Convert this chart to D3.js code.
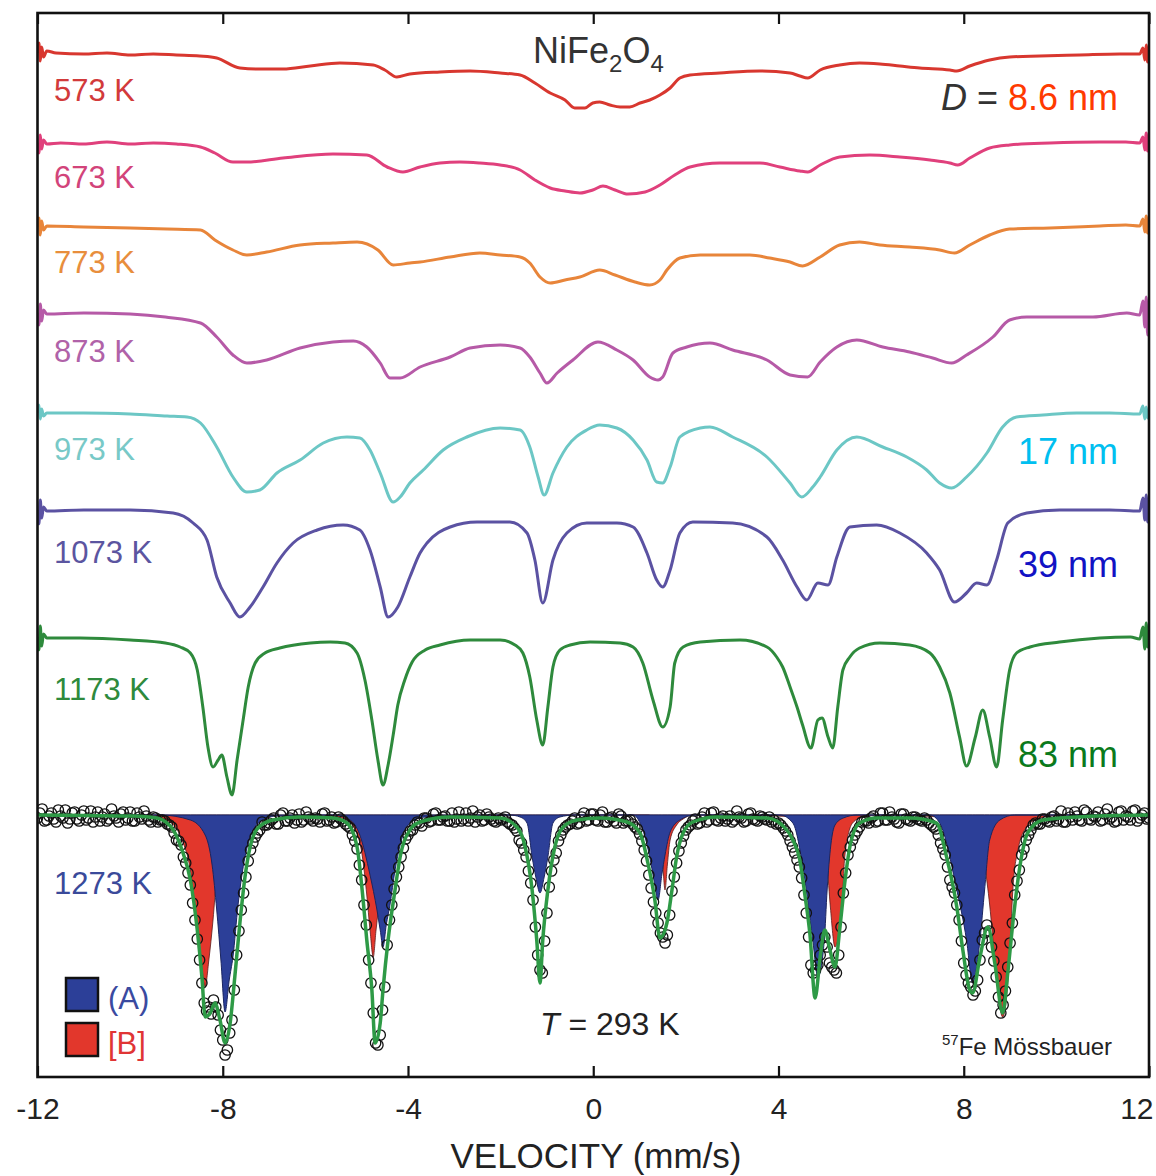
<!DOCTYPE html>
<html>
<head>
<meta charset="utf-8">
<script src="https://cdn.jsdelivr.net/npm/d3@7"></script>
<style>
  body { margin: 0; background: #fff; }
  text { font-family: "Liberation Sans", Arial, sans-serif; }
</style>
</head>
<body>
<svg id="chart" width="1156" height="1176"></svg>
<script>
// ---- Mössbauer spectra of NiFe2O4, annealed at increasing temperature ----
// Each spectrum: [velocity (mm/s), relative absorption (%)]

const temperatures = ["573 K", "673 K", "773 K", "873 K", "973 K", "1073 K", "1173 K", "1273 K"];
const curveColors  = ["#d8372f", "#e0407c", "#e8853a", "#b65aa7", "#6cc7c5", "#5b52a2", "#2e8a3c"];
const labelColors  = ["#d23a3a", "#d2447a", "#e88e3c", "#b062a8", "#78c9c7", "#5b55a0", "#2e8a3c", "#3a4a9a"];
// vertical stacking offset of each spectrum baseline (% units from the top of the frame)
const stackOffset  = [4.0, 13.0, 21.4, 30.0, 40.0, 49.7, 62.4, 80.2];

const spec573 = [[-12.00,0.0],[-11.97,-1.0],[-11.94,0.8],[-11.91,-0.6],[-11.87,0.4],[-11.8,-0.2],[-11.6,0.0],[-11.0,0.1],[-10.5,0.0],[-10.0,0.2],[-9.5,0.1],[-9.0,0.2],[-8.5,0.3],[-8.13,0.5],[-7.63,1.5],[-7.20,1.6],[-6.70,1.6],[-6.11,1.3],[-5.47,1.0],[-4.75,1.2],[-4.50,1.7],[-4.24,2.4],[-3.96,2.1],[-3.31,1.9],[-2.66,1.8],[-2.01,2.0],[-1.58,2.2],[-1.26,3.0],[-0.93,4.0],[-0.61,4.7],[-0.40,5.5],[-0.18,5.5],[-0.01,5.0],[0.14,4.9],[0.36,5.2],[0.58,5.4],[0.79,5.4],[1.01,5.0],[1.22,4.7],[1.44,4.2],[1.66,3.5],[1.87,2.5],[2.09,2.2],[2.73,2.0],[3.60,1.8],[4.25,2.0],[4.46,2.3],[4.63,2.5],[4.90,1.7],[5.32,1.2],[5.75,1.0],[6.19,1.1],[6.62,1.3],[7.05,1.5],[7.70,1.7],[7.85,1.8],[8.13,1.3],[8.56,0.7],[8.99,0.4],[9.64,0.3],[10.5,0.2],[11.37,0.1],[11.8,0.1],[11.87,-0.5],[11.91,0.7],[11.94,-0.8],[11.97,0.9],[12.0,0.1]];

const spec673 = [[-12.00,0.0],[-11.97,1.0],[-11.94,-0.8],[-11.91,0.6],[-11.87,-0.3],[-11.8,0.1],[-11.5,0.0],[-11.0,0.1],[-10.5,-0.1],[-10.0,0.1],[-9.5,0.0],[-9.0,0.1],[-8.48,0.4],[-8.17,1.0],[-7.78,1.9],[-7.48,1.9],[-6.70,1.5],[-5.62,1.1],[-4.89,1.2],[-4.45,2.4],[-4.11,2.9],[-3.74,2.4],[-3.31,2.0],[-2.88,1.9],[-2.45,2.0],[-2.01,2.2],[-1.58,2.7],[-1.26,3.7],[-0.93,4.5],[-0.61,4.8],[-0.29,5.0],[-0.01,4.7],[0.21,4.3],[0.47,4.7],[0.75,5.1],[1.12,4.9],[1.44,4.2],[1.76,3.2],[2.09,2.4],[2.73,2.0],[3.60,2.0],[4.03,2.4],[4.46,2.8],[4.63,2.9],[4.90,2.2],[5.32,1.4],[5.97,1.2],[6.62,1.4],[7.27,1.7],[7.70,2.0],[7.87,2.2],[8.13,1.5],[8.56,0.5],[8.99,0.2],[9.86,0.0],[10.94,-0.1],[11.5,-0.1],[11.8,0.0],[11.87,-0.6],[11.91,0.7],[11.94,-1.0],[11.97,0.8],[12.0,0.0]];

const spec773 = [[-12.00,0.0],[-11.97,-0.9],[-11.94,0.8],[-11.91,-0.6],[-11.87,0.3],[-11.8,-0.1],[-11.0,0.0],[-10.0,0.1],[-9.2,0.2],[-8.48,0.3],[-8.17,1.3],[-7.78,2.3],[-7.48,2.8],[-7.05,2.5],[-6.33,1.8],[-5.62,1.6],[-5.10,1.5],[-4.65,2.3],[-4.32,3.8],[-3.96,3.6],[-3.74,3.5],[-3.09,3.0],[-2.45,2.6],[-2.01,2.8],[-1.58,3.0],[-1.37,3.6],[-1.15,5.0],[-0.93,5.6],[-0.61,5.3],[-0.29,5.0],[0.14,4.3],[0.47,4.8],[0.90,5.5],[1.22,5.8],[1.44,5.3],[1.59,4.3],[1.87,3.1],[2.31,2.8],[3.38,2.8],[3.81,3.1],[4.25,3.5],[4.52,3.9],[4.90,3.0],[5.32,1.8],[5.75,1.5],[6.19,1.8],[6.83,2.0],[7.48,2.3],[7.80,2.6],[8.13,1.8],[8.56,0.8],[8.99,0.2],[9.86,0.1],[10.94,-0.1],[11.5,-0.2],[11.8,-0.1],[11.87,-0.8],[11.91,0.5],[11.94,-1.1],[11.97,0.6],[12.0,-0.2]];

const spec873 = [[-12.00,0.0],[-11.97,1.2],[-11.94,-0.9],[-11.91,0.8],[-11.87,-0.3],[-11.8,0.1],[-11.0,0.0],[-10.0,0.1],[-9.24,0.4],[-8.48,1.0],[-8.13,2.4],[-7.78,4.2],[-7.48,5.0],[-7.05,4.7],[-6.33,3.5],[-5.62,2.9],[-5.18,2.8],[-4.89,3.4],[-4.60,5.0],[-4.39,6.5],[-4.17,6.5],[-3.74,5.4],[-3.09,4.4],[-2.66,3.5],[-2.01,3.2],[-1.58,3.5],[-1.37,4.4],[-1.15,6.0],[-1.00,7.0],[-0.78,6.0],[-0.44,4.7],[0.10,2.9],[0.51,3.7],[0.86,4.7],[1.22,6.4],[1.40,6.7],[1.50,6.4],[1.72,4.0],[2.02,3.4],[2.52,3.0],[3.01,3.7],[3.75,4.7],[4.25,6.2],[4.63,6.4],[4.90,4.9],[5.26,3.4],[5.69,2.7],[6.25,3.4],[6.83,3.9],[7.33,4.5],[7.74,5.0],[8.06,4.2],[8.63,2.4],[8.99,0.7],[9.36,0.4],[10.07,0.4],[10.79,0.4],[11.52,0.0],[11.8,0.2],[11.87,-1.2],[11.91,1.4],[11.94,-1.6],[11.97,2.2],[12.0,0.4]];

const spec973 = [[-12.00,0.0],[-11.97,-0.8],[-11.94,0.6],[-11.91,-0.4],[-11.87,0.3],[-11.8,0.0],[-11.0,0.0],[-10.0,0.1],[-9.2,0.3],[-8.77,0.4],[-8.48,1.0],[-8.13,3.4],[-7.78,6.4],[-7.48,7.9],[-7.20,7.7],[-6.83,6.0],[-6.33,4.7],[-5.83,3.0],[-5.32,2.4],[-5.04,2.5],[-4.82,3.7],[-4.60,6.0],[-4.32,8.9],[-4.17,8.4],[-3.96,7.0],[-3.67,5.7],[-3.24,3.7],[-2.73,2.4],[-2.01,1.5],[-1.58,1.7],[-1.37,3.4],[-1.19,6.4],[-1.06,8.2],[-0.87,6.0],[-0.57,3.4],[-0.14,1.7],[0.14,1.2],[0.51,1.5],[0.86,2.7],[1.16,4.7],[1.37,6.9],[1.50,7.0],[1.66,5.4],[1.87,2.4],[2.31,1.5],[2.52,1.4],[3.01,2.4],[3.75,4.4],[4.25,7.0],[4.50,8.4],[4.74,7.4],[4.90,6.4],[5.26,3.7],[5.69,2.4],[6.25,3.4],[6.77,4.4],[7.20,5.7],[7.48,7.0],[7.74,7.5],[8.06,6.4],[8.50,4.0],[8.84,1.4],[9.14,0.4],[9.71,0.2],[10.44,0.0],[11.15,0.0],[11.8,0.1],[11.87,-0.7],[11.91,0.6],[11.94,-0.6],[11.97,0.5],[12.0,0.1]];

const spec1073 = [[-12.00,0.0],[-11.97,1.4],[-11.94,-1.0],[-11.91,0.8],[-11.87,-0.3],[-11.8,0.1],[-11.0,0.0],[-10.0,0.0],[-9.07,0.3],[-8.64,1.3],[-8.34,3.0],[-8.13,6.7],[-7.84,9.3],[-7.63,10.7],[-7.41,9.7],[-7.13,7.7],[-6.83,5.3],[-6.48,3.3],[-5.96,2.0],[-5.40,1.5],[-5.04,2.0],[-4.82,4.0],[-4.60,7.7],[-4.43,10.7],[-4.22,9.7],[-3.96,6.7],[-3.74,4.3],[-3.59,3.3],[-3.09,1.7],[-2.51,1.2],[-1.80,1.2],[-1.43,2.3],[-1.26,5.0],[-1.09,9.3],[-0.87,5.0],[-0.57,2.3],[-0.14,1.3],[0.51,1.3],[0.86,1.7],[1.16,4.3],[1.37,7.0],[1.50,7.7],[1.66,6.0],[1.87,2.3],[2.15,1.2],[3.01,1.3],[3.75,2.7],[4.09,5.0],[4.40,7.7],[4.61,9.0],[4.85,7.3],[5.07,7.5],[5.26,4.7],[5.54,1.7],[6.12,1.5],[6.62,2.3],[7.20,4.3],[7.48,6.0],[7.80,9.2],[8.06,8.3],[8.28,7.3],[8.50,7.5],[8.71,5.0],[8.95,1.3],[9.36,0.3],[10.07,0.0],[11.15,0.0],[11.8,0.1],[11.87,-1.2],[11.91,1.0],[11.94,-1.5],[11.97,1.2],[12.0,0.2]];

const spec1173 = [[-12.00,0.0],[-11.97,1.3],[-11.94,-1.1],[-11.91,0.9],[-11.87,-0.3],[-11.8,0.1],[-11.5,0.1],[-11.08,0.1],[-10.0,0.3],[-9.24,0.6],[-8.92,1.0],[-8.70,1.6],[-8.55,3.3],[-8.43,7.0],[-8.32,11.0],[-8.21,13.0],[-8.10,12.3],[-8.02,11.8],[-7.91,14.0],[-7.80,15.8],[-7.69,12.3],[-7.56,8.3],[-7.45,5.0],[-7.30,2.6],[-7.09,1.6],[-6.77,1.1],[-6.11,0.6],[-5.68,0.5],[-5.36,0.6],[-5.10,1.6],[-4.93,4.3],[-4.78,8.3],[-4.65,12.3],[-4.54,14.8],[-4.43,12.8],[-4.32,9.8],[-4.22,6.8],[-4.07,4.3],[-3.91,2.5],[-3.63,1.3],[-3.31,0.8],[-2.66,0.3],[-2.01,0.3],[-1.69,0.8],[-1.52,1.6],[-1.37,4.0],[-1.22,8.3],[-1.09,10.8],[-0.98,7.0],[-0.87,3.0],[-0.72,1.3],[-0.50,0.8],[-0.07,0.5],[0.58,0.6],[0.86,1.0],[1.07,2.6],[1.29,6.3],[1.50,9.0],[1.66,7.0],[1.76,2.6],[1.94,1.0],[2.31,0.5],[3.17,0.3],[3.75,1.0],[3.96,2.0],[4.09,3.0],[4.25,5.0],[4.40,7.0],[4.52,8.8],[4.70,11.1],[4.85,8.3],[4.94,8.1],[5.07,10.0],[5.17,11.1],[5.28,7.0],[5.39,3.3],[5.54,2.0],[5.75,1.1],[6.19,0.6],[6.83,0.8],[7.27,1.6],[7.48,3.0],[7.70,5.6],[7.91,10.0],[8.06,12.9],[8.25,10.0],[8.41,7.3],[8.56,10.0],[8.71,13.0],[8.84,8.3],[8.99,3.3],[9.14,1.6],[9.43,1.0],[10.07,0.5],[10.94,0.1],[11.6,0.0],[11.8,0.2],[11.87,-1.0],[11.91,1.2],[11.94,-1.4],[11.97,1.0],[12.0,0.3]];

const tempSpectra = [spec573, spec673, spec773, spec873, spec973, spec1073, spec1173];

// 1273 K measured at 293 K: fitted envelope, A-site and B-site sextets
const fit1273 = [[-12.0,0.0],[-11.0,0.05],[-9.94,0.1],[-9.42,0.3],[-9.07,1.5],[-8.88,3.5],[-8.70,6.5],[-8.55,11.5],[-8.45,16.2],[-8.38,20.2],[-8.27,19.8],[-8.17,18.8],[-8.06,20.5],[-7.95,22.8],[-7.84,20.8],[-7.74,16.2],[-7.63,10.8],[-7.52,6.2],[-7.41,3.2],[-7.24,1.3],[-6.92,0.5],[-6.33,0.2],[-5.62,0.3],[-5.32,0.8],[-5.10,3.2],[-4.99,7.5],[-4.89,12.5],[-4.78,17.5],[-4.71,22.8],[-4.60,20.8],[-4.54,17.5],[-4.43,12.5],[-4.28,7.5],[-4.17,4.2],[-3.96,1.5],[-3.74,0.7],[-3.09,0.2],[-2.01,0.3],[-1.65,1.2],[-1.47,3.2],[-1.32,7.5],[-1.22,12.5],[-1.15,16.8],[-1.09,12.5],[-0.98,7.5],[-0.83,3.2],[-0.65,1.2],[-0.35,0.5],[0.14,0.3],[0.73,0.7],[1.01,1.8],[1.18,4.8],[1.33,8.5],[1.44,12.3],[1.59,10.8],[1.70,7.5],[1.80,4.2],[1.94,1.8],[2.15,0.7],[2.67,0.2],[3.75,0.3],[4.18,1.5],[4.31,2.5],[4.46,4.5],[4.57,8.0],[4.68,12.0],[4.79,18.3],[4.90,14.2],[5.00,11.5],[5.11,13.5],[5.22,15.2],[5.32,11.5],[5.43,6.8],[5.54,3.2],[5.75,0.8],[6.12,0.3],[6.83,0.3],[7.41,0.8],[7.63,4.2],[7.85,9.2],[7.98,13.5],[8.13,17.5],[8.19,17.8],[8.35,14.2],[8.52,11.2],[8.67,14.8],[8.84,19.8],[8.95,15.8],[9.06,10.8],[9.21,5.2],[9.38,1.8],[9.71,0.5],[10.44,0.2],[12.0,0.0]];

const siteA1273 = [[-12.0,0],[-9.36,0],[-8.70,0.5],[-8.38,2.0],[-8.23,5.0],[-8.13,9.5],[-8.04,14.5],[-7.95,19.7],[-7.86,16.5],[-7.78,14.2],[-7.67,9.0],[-7.52,4.2],[-7.37,1.8],[-7.20,0.7],[-6.87,0.1],[-5.58,0],[-5.25,0.5],[-5.04,2.0],[-4.82,6.0],[-4.67,9.5],[-4.60,11.5],[-4.54,13.2],[-4.47,11.0],[-4.39,9.0],[-4.28,5.5],[-4.17,3.0],[-4.00,1.0],[-3.63,0.2],[-1.80,0],[-1.58,0.2],[-1.43,0.8],[-1.32,4.2],[-1.24,6.2],[-1.15,7.8],[-1.06,6.2],[-0.98,4.2],[-0.87,0.8],[-0.72,0.2],[-0.40,0],[0.86,0],[1.01,0.8],[1.22,4.2],[1.31,6.5],[1.40,8.5],[1.48,6.0],[1.55,4.0],[1.66,1.7],[1.87,0.5],[2.20,0],[4.03,0],[4.31,0.8],[4.52,5.0],[4.74,12.5],[4.85,16.2],[4.99,12.5],[5.05,7.5],[5.13,3.0],[5.22,1.0],[5.40,0.3],[5.70,0],[7.27,0],[7.48,0.8],[7.85,7.5],[8.06,12.5],[8.19,16.8],[8.35,12.5],[8.45,7.5],[8.56,2.5],[8.78,0.5],[9.10,0],[12.0,0]];

const siteB1273 = [[-12.0,0],[-9.57,0.1],[-9.14,0.7],[-8.88,2.5],[-8.70,5.5],[-8.57,10.5],[-8.47,14.5],[-8.38,17.2],[-8.30,14.5],[-8.21,10.5],[-8.13,6.0],[-8.02,3.0],[-7.84,1.3],[-7.52,0.4],[-7.09,0.1],[-5.68,0.1],[-5.36,0.4],[-5.14,1.5],[-4.99,4.0],[-4.89,8.0],[-4.82,11.5],[-4.75,14.2],[-4.69,11.5],[-4.60,8.0],[-4.47,4.5],[-4.32,2.0],[-4.07,0.7],[-3.74,0.1],[-1.6,0],[-1.3,1.5],[-1.15,4.0],[-1.0,1.5],[-0.7,0],[1.20,0],[1.40,2.0],[1.50,5.0],[1.55,7.5],[1.60,5.0],[1.66,2.5],[1.80,1.0],[1.94,0.4],[2.15,0],[4.60,0.2],[4.80,0.8],[4.95,2.0],[5.05,5.0],[5.12,9.2],[5.22,13.2],[5.37,9.2],[5.43,4.2],[5.60,0.8],[5.82,0.2],[6.2,0],[7.48,0.2],[7.91,0.7],[8.25,2.0],[8.45,5.0],[8.56,9.0],[8.67,14.5],[8.84,20.2],[8.99,14.2],[9.06,7.5],[9.17,3.5],[9.36,1.2],[9.64,0.3],[10.2,0],[12.0,0]];

// measured counts, two interleaved channel sets 0.1 mm/s apart
const sweepUpStart = -12.0, sweepDownStart = -11.95, channelStep = 0.1;
const obsSweepUp = [
  0.3,-0.6,0.5,-0.2,0.7,0.1,-0.5,0.4,-0.3,0.6,
  -0.4,0.3,0.7,-0.3,0.2,0.6,-0.6,0.3,-0.1,0.5,
  -0.3,0.6,0.2,-0.4,0.5,0.2,0.7,0.5,0.9,1.2,
  2.5,3.0,4.8,7.0,10.5,14.5,18.8,19.2,18.5,20.0,
  22.5,23.5,20.5,14.0,9.5,6.2,3.5,2.2,1.5,1.0,
  0.8,0.3,0.9,-0.2,0.6,0.0,0.5,0.7,-0.3,0.4,
  0.3,0.7,-0.2,0.5,0.8,0.2,0.6,1.1,2.0,3.4,
  6.5,11.0,16.8,22.8,22.0,17.2,10.5,7.4,5.2,3.3,
  2.0,1.5,0.7,1.1,0.3,0.6,-0.2,0.5,0.1,0.6,
  0.7,-0.3,0.4,0.6,-0.4,0.2,0.6,-0.1,0.4,0.7,
  0.5,0.2,0.9,1.3,2.5,3.5,5.6,8.5,14.0,15.8,
  9.8,5.6,3.8,2.0,1.2,0.9,0.3,0.8,-0.2,0.5,
  -0.1,0.6,-0.3,0.7,0.2,0.8,0.1,0.6,0.5,1.2,
  1.9,3.5,6.0,8.7,10.8,12.2,12.0,7.6,4.8,2.8,
  1.5,1.0,0.4,0.8,-0.2,0.5,-0.3,0.6,0.1,0.4,
  0.7,-0.4,0.3,0.6,-0.2,0.5,0.1,0.4,0.2,0.5,
  0.8,1.3,2.0,3.2,4.5,6.3,9.8,15.0,15.5,14.0,
  12.2,14.8,15.5,14.0,7.8,4.0,2.5,1.6,0.7,0.6,
  0.3,0.7,-0.2,0.5,-0.3,0.4,0.8,-0.1,0.5,0.2,
  0.4,0.6,0.5,1.0,1.4,2.8,4.0,6.5,7.8,10.5,
  14.8,16.8,18.0,16.5,12.5,11.0,13.2,16.2,19.8,17.6,
  12.8,8.0,5.5,3.4,2.0,1.0,0.9,0.4,0.6,0.2,
  0.6,-0.4,0.7,0.2,-0.3,0.5,-0.5,0.4,0.1,-0.3,
  0.5,-0.6,0.2,0.6,-0.4,0.1,0.5,-0.5,0.3,-0.2,
  0.3
];
const obsSweepDown = [
  -0.2,0.6,0.1,0.4,-0.5,0.3,0.8,-0.2,0.4,0.0,
  0.5,-0.4,0.2,0.6,-0.1,0.4,0.1,0.7,-0.3,0.3,
  0.6,-0.2,0.4,0.1,0.7,0.3,0.5,0.6,1.0,1.8,
  2.6,4.2,5.8,8.8,12.4,16.8,19.6,19.9,19.2,21.5,
  24.0,21.8,17.5,11.6,7.8,4.6,2.8,1.8,0.7,1.0,
  0.5,0.9,0.0,0.6,0.3,0.8,-0.1,0.5,0.2,0.6,
  0.4,-0.1,0.6,0.2,0.7,0.4,0.9,1.3,2.6,5.0,
  9.0,14.5,19.8,23.0,19.5,13.0,9.0,6.2,4.2,2.4,
  1.6,1.0,0.8,0.3,0.7,-0.1,0.5,0.2,0.6,-0.2,
  0.4,0.6,-0.2,0.3,0.7,0.0,0.5,0.2,0.6,0.3,
  0.4,0.7,1.0,1.6,2.8,4.2,6.8,11.2,15.5,12.6,
  7.2,4.5,2.6,1.5,1.0,0.6,0.9,0.2,0.6,-0.1,
  0.5,0.0,0.7,0.3,0.6,-0.1,0.8,0.6,0.9,1.4,
  2.6,4.6,7.3,9.8,11.8,12.8,10.0,6.2,3.6,2.1,
  1.2,0.6,0.9,0.2,0.7,-0.2,0.5,0.3,0.6,0.1,
  0.5,0.2,0.7,-0.1,0.4,0.6,0.2,0.5,0.7,0.9,
  1.0,1.6,2.6,3.8,5.2,8.0,12.2,15.8,15.0,13.0,
  13.2,15.2,15.8,11.2,5.8,3.2,2.0,1.2,0.6,0.8,
  0.1,0.6,-0.2,0.5,0.2,0.7,-0.1,0.4,0.6,0.2,
  0.5,0.3,0.8,1.2,2.0,3.4,5.2,7.2,9.0,12.6,
  16.0,17.2,17.6,14.5,11.8,11.6,14.6,18.2,19.0,15.2,
  10.8,6.6,4.0,2.5,1.5,0.8,0.9,0.4,0.7,0.1,
  0.4,0.7,-0.2,0.5,0.1,0.6,-0.3,0.5,0.2,0.6,
  -0.1,0.4,0.7,-0.3,0.5,0.2,-0.4,0.6,0.0,0.4
];

const velocityTicks = [-12, -8, -4, 0, 4, 8, 12];
const sizeLabels = ["8.6 nm", "17 nm", "39 nm", "83 nm"];
const sizeColors = ["#ff3a00", "#00bff0", "#1212c4", "#0b7a1c"];

// ---------------- layout ----------------
const frame = { left: 37.5, right: 1149, top: 13, bottom: 1077 };
const svg = d3.select("#chart");

const x = d3.scaleLinear().domain([-12, 12]).range([frame.left, frame.right]);
const y = d3.scaleLinear().domain([0, 106.4]).range([frame.top, frame.bottom]);

svg.append("defs").append("clipPath").attr("id", "plotClip")
  .append("rect")
  .attr("x", frame.left).attr("y", frame.top)
  .attr("width", frame.right - frame.left).attr("height", frame.bottom - frame.top);

const plot = svg.append("g").attr("clip-path", "url(#plotClip)");

const lineFor = shift => d3.line()
  .curve(d3.curveMonotoneX)
  .x(d => x(d[0]))
  .y(d => y(shift + d[1]));

// annealed-sample spectra
tempSpectra.forEach((spec, i) => {
  plot.append("path")
    .datum(spec)
    .attr("d", lineFor(stackOffset[i]))
    .attr("fill", "none")
    .attr("stroke", curveColors[i])
    .attr("stroke-width", 3)
    .attr("stroke-linejoin", "round");
});

// 1273 K: sub-spectra areas, data points and fit
const s1273 = stackOffset[7];
const areaFor = shift => d3.area()
  .curve(d3.curveMonotoneX)
  .x(d => x(d[0]))
  .y0(y(shift))
  .y1(d => y(shift + d[1]));

plot.append("path").datum(siteB1273)
  .attr("d", areaFor(s1273))
  .attr("fill", "#e2372c")
  .attr("stroke", "#5a1a1a").attr("stroke-width", 0.8);

plot.append("path").datum(siteA1273)
  .attr("d", areaFor(s1273))
  .attr("fill", "#2c3f98")
  .attr("stroke", "#1b2560").attr("stroke-width", 1);

const observed = [
  ...obsSweepUp.map((a, i) => [sweepUpStart + i * channelStep, a]),
  ...obsSweepDown.map((a, i) => [sweepDownStart + i * channelStep, a])
];
plot.append("g").selectAll("circle")
  .data(observed)
  .join("circle")
  .attr("cx", d => x(d[0]))
  .attr("cy", d => y(s1273 + d[1]))
  .attr("r", 5.2)
  .attr("fill", "none")
  .attr("stroke", "#111")
  .attr("stroke-width", 1.3);

plot.append("path").datum(fit1273)
  .attr("d", lineFor(s1273))
  .attr("fill", "none")
  .attr("stroke", "#2e9a46")
  .attr("stroke-width", 3.5)
  .attr("stroke-linejoin", "round");

// title box
svg.append("rect").attr("x", 408).attr("y", 16).attr("width", 384).attr("height", 53).attr("fill", "#fff");

// ---------------- frame and axes ----------------
svg.append("rect")
  .attr("x", frame.left).attr("y", frame.top)
  .attr("width", frame.right - frame.left).attr("height", frame.bottom - frame.top)
  .attr("fill", "none").attr("stroke", "#111").attr("stroke-width", 2.6);

const axB = svg.append("g").attr("transform", `translate(0,${frame.bottom})`)
  .call(d3.axisBottom(x).tickValues(velocityTicks).tickSizeInner(-11).tickSizeOuter(0).tickPadding(21)
        .tickFormat(d => d < 0 ? "-" + Math.abs(d) : String(d)));
axB.select(".domain").remove();
axB.selectAll(".tick line").attr("stroke", "#111").attr("stroke-width", 2.2);
axB.selectAll(".tick text").attr("fill", "#222").attr("font-size", 30)
  .attr("font-family", "'Liberation Sans', Arial, sans-serif");
// keep the outermost right label inside the page
axB.selectAll(".tick text").filter(d => d === 12).attr("text-anchor", "end").attr("x", 4);

const axT = svg.append("g").attr("transform", `translate(0,${frame.top})`)
  .call(d3.axisTop(x).tickValues(velocityTicks).tickSizeInner(-11).tickSizeOuter(0).tickFormat(""));
axT.select(".domain").remove();
axT.selectAll(".tick line").attr("stroke", "#111").attr("stroke-width", 2.2);

svg.append("text")
  .attr("x", 596).attr("y", 1168)
  .attr("text-anchor", "middle")
  .attr("font-size", 35).attr("fill", "#222")
  .text("VELOCITY (mm/s)");

// ---------------- labels ----------------
const tempLabelY = [101, 188, 273, 362, 460, 563, 700, 894];
temperatures.forEach((t, i) => {
  svg.append("text")
    .attr("x", 54).attr("y", tempLabelY[i])
    .attr("font-size", 31).attr("fill", labelColors[i])
    .text(t);
});

// particle sizes
const sizeLabelY = [110, 464, 577, 767];
sizeLabels.forEach((s, i) => {
  const t = svg.append("text")
    .attr("x", 1118).attr("y", sizeLabelY[i])
    .attr("text-anchor", "end")
    .attr("font-size", 36);
  if (i === 0) {
    t.append("tspan").attr("fill", "#333").attr("font-style", "italic").text("D");
    t.append("tspan").attr("fill", "#333").text(" = ");
  }
  t.append("tspan").attr("fill", sizeColors[i]).text(s);
});

// compound
const title = svg.append("text").attr("x", 533).attr("y", 63).attr("font-size", 36).attr("fill", "#333");
title.append("tspan").text("NiFe");
title.append("tspan").attr("font-size", 24).attr("dy", 9).text("2");
title.append("tspan").attr("dy", -9).text("O");
title.append("tspan").attr("font-size", 24).attr("dy", 9).text("4");

// measurement temperature
const tt = svg.append("text").attr("x", 540).attr("y", 1035).attr("font-size", 32).attr("fill", "#222");
tt.append("tspan").attr("font-style", "italic").text("T");
tt.append("tspan").text(" = 293 K");

// technique
const mt = svg.append("text").attr("x", 942).attr("y", 1055).attr("font-size", 24).attr("fill", "#222");
mt.append("tspan").attr("font-size", 15).attr("dy", -10).text("57");
mt.append("tspan").attr("dy", 10).text("Fe Mössbauer");

// site legend
const legend = [
  { name: "(A)", fill: "#2c3f98", text: "#3a4aa0", y: 978 },
  { name: "[B]", fill: "#e2372c", text: "#e03535", y: 1023 }
];
legend.forEach(l => {
  svg.append("rect").attr("x", 66).attr("y", l.y).attr("width", 32).attr("height", 33)
    .attr("fill", l.fill).attr("stroke", "#111").attr("stroke-width", 2.5);
  svg.append("text").attr("x", 108).attr("y", l.y + 31)
    .attr("font-size", 31).attr("fill", l.text).text(l.name);
});
</script>
</body>
</html>
